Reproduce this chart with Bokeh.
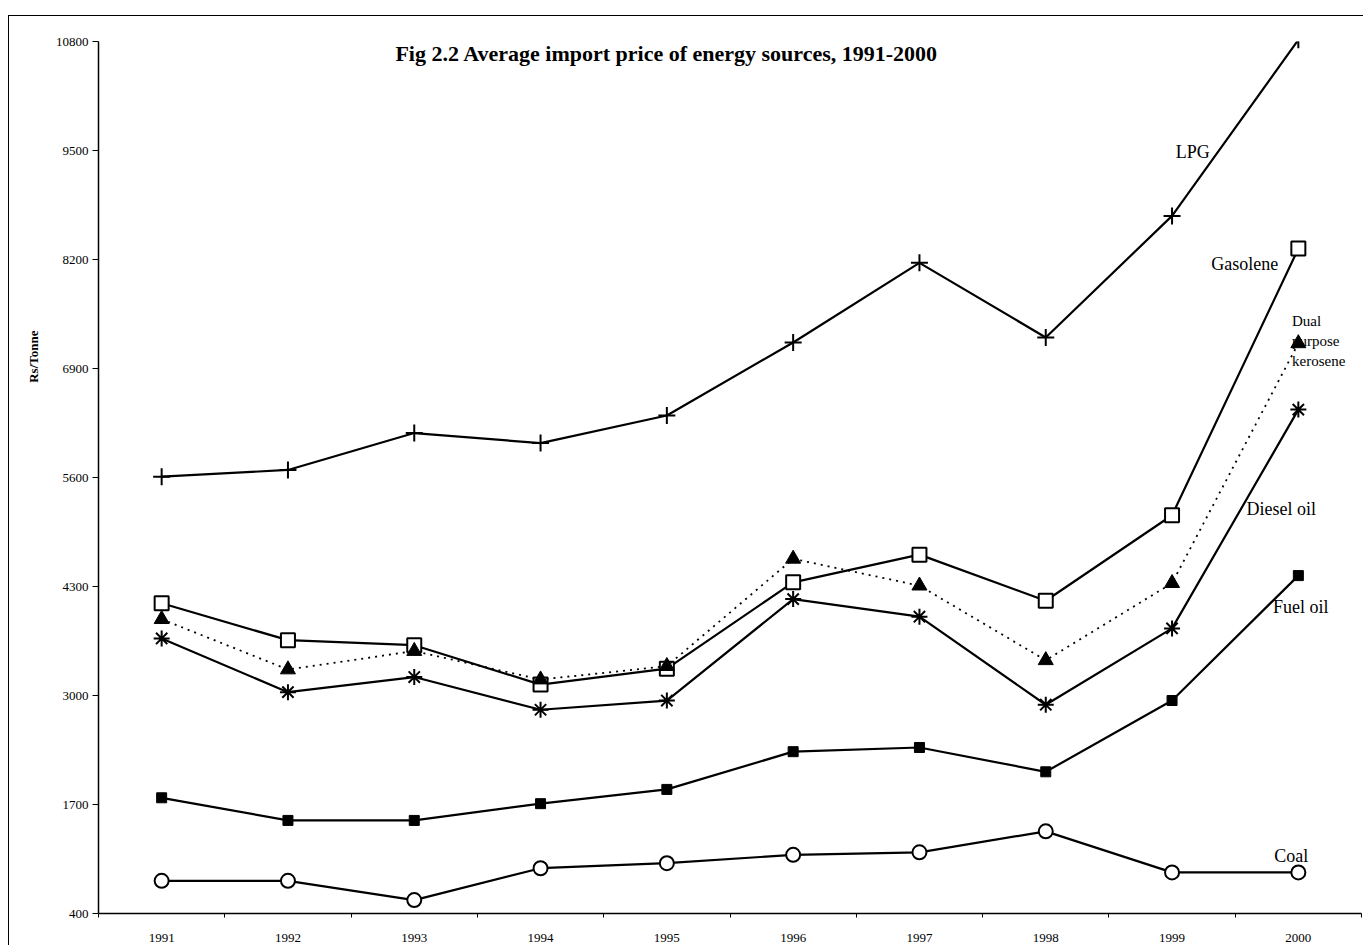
from bokeh.plotting import figure
from bokeh.models import Range1d, FixedTicker, Label, Title
from bokeh.embed import file_html
from bokeh.resources import INLINE

years = [1991, 1992, 1993, 1994, 1995, 1996, 1997, 1998, 1999, 2000]
lpg = [5610, 5690, 6130, 6010, 6340, 7210, 8160, 7270, 8720, 10820]
gasolene = [4100, 3660, 3600, 3130, 3320, 4350, 4680, 4130, 5150, 8330]
kerosene = [3910, 3310, 3530, 3190, 3350, 4630, 4310, 3420, 4340, 7200]
diesel = [3680, 3040, 3220, 2830, 2940, 4150, 3940, 2890, 3800, 6410]
fuel_oil = [1780, 1510, 1510, 1710, 1880, 2330, 2380, 2090, 2940, 4430]
coal = [790, 790, 560, 940, 1000, 1100, 1130, 1380, 890, 890]
y_ticks = [400, 1700, 3000, 4300, 5600, 6900, 8200, 9500, 10800]

SERIF = "Liberation Serif"

p = figure(width=1355, height=930, output_backend="svg", toolbar_location=None,
           x_range=Range1d(1990.5, 2000.5), y_range=Range1d(400, 10800),
           min_border_left=89, min_border_right=3, min_border_top=25, min_border_bottom=33,
           styles={"border-left": "1px solid black", "border-top": "1px solid black",
                   "margin-top": "15px", "margin-left": "8px"})
p.outline_line_color = None
p.grid.visible = False

p.xaxis.ticker = FixedTicker(ticks=years, minor_ticks=[y + 0.5 for y in [1990] + years])
p.xaxis.major_tick_out = 0
p.xaxis.major_tick_in = 0
p.xaxis.minor_tick_out = 4
p.xaxis.minor_tick_in = 0
p.xaxis.major_label_standoff = 16
p.yaxis.ticker = FixedTicker(ticks=y_ticks)
p.yaxis.major_tick_out = 6
p.yaxis.major_tick_in = 0
p.yaxis.minor_tick_out = 0
p.yaxis.major_label_standoff = 4
for ax in (p.xaxis, p.yaxis):
    ax.axis_line_color = "black"
    ax.axis_line_width = 1.5
    ax.major_tick_line_color = "black"
    ax.minor_tick_line_color = "black"
    ax.major_label_text_font = SERIF
    ax.major_label_text_font_size = "13px"
    ax.major_label_text_color = "black"

p.add_layout(Title(text="Rs/Tonne", align="right", offset=289, standoff=24,
                   text_font=SERIF, text_font_size="13px",
                   text_font_style="bold", text_color="black"), "left")

# series
p.line(years, lpg, line_color="black", line_width=2.2)
p.scatter(years, lpg, marker="cross", size=17, line_color="black", line_width=2)

p.line(years, gasolene, line_color="black", line_width=2.2)
p.scatter(years, gasolene, marker="square", size=14, fill_color="white", line_color="black", line_width=2)

p.line(years, kerosene, line_color="black", line_width=1.8, line_dash="2 5")
p.scatter(years, kerosene, marker="triangle", size=15, fill_color="black", line_color="black")

p.line(years, diesel, line_color="black", line_width=2.2)
p.scatter(years, diesel, marker="asterisk", size=16, line_color="black", line_width=2)

p.line(years, fuel_oil, line_color="black", line_width=2.2)
p.scatter(years, fuel_oil, marker="square", size=10, fill_color="black", line_color="black")

p.line(years, coal, line_color="black", line_width=2.2)
p.scatter(years, coal, marker="circle", size=14, fill_color="white", line_color="black", line_width=2)

# annotations
def lab(x, y, t, size="18px", bold=False, align="left"):
    p.add_layout(Label(x=x, y=y, text=t, text_font=SERIF, text_font_size=size,
                       text_font_style="bold" if bold else "normal",
                       text_align=align, text_baseline="middle", text_color="black"))

lab(1995.0, 10660, "Fig 2.2 Average import price of energy sources, 1991-2000", size="22px", bold=True, align="center")
lab(1999.03, 9480, "LPG")
lab(1999.31, 8150, "Gasolene")
lab(1999.95, 7470, "Dual", size="15px")
lab(1999.95, 7230, "purpose", size="15px")
lab(1999.95, 6985, "kerosene", size="15px")
lab(1999.59, 5230, "Diesel oil")
lab(1999.80, 4050, "Fuel oil")
lab(1999.81, 1080, "Coal")

open("out.html", "w").write(file_html(p, INLINE))
